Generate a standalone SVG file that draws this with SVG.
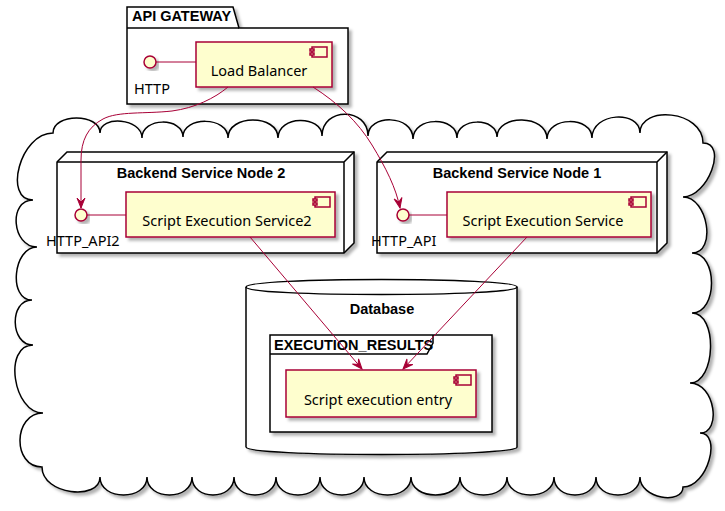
<svg xmlns="http://www.w3.org/2000/svg" width="725" height="511" viewBox="0 0 725 511">
<defs>
<filter id="sh" x="-10%" y="-10%" width="130%" height="130%">
<feDropShadow dx="3" dy="3" stdDeviation="1.8" flood-color="#000" flood-opacity="0.3"/>
</filter>
<marker id="ah" viewBox="-11 -5 12 10" refX="0" refY="0" markerWidth="12" markerHeight="10" markerUnits="userSpaceOnUse" orient="auto">
<path d="M0,0 L-10,-4 L-6,0 L-10,4 Z" fill="#A80036" stroke="#A80036" stroke-width="1" stroke-linejoin="miter"/>
</marker>
<style>
.comp{fill:#FEFECE;stroke:#A80036;stroke-width:1.5}
.ic{fill:#FEFECE;stroke:#A80036;stroke-width:1.5}
.frame{fill:#FFFFFF;stroke:#000000;stroke-width:1.5}
.line{fill:none;stroke:#000000;stroke-width:1.5}
.lnk{fill:none;stroke:#A80036;stroke-width:1}
.sh{filter:url(#sh)}
text{font-family:"Noto Sans","DejaVu Sans",Arial,sans-serif;font-size:14.5px;fill:#000000}
text.b{font-family:"Liberation Sans",Arial,sans-serif;font-weight:bold;font-size:14.5px}
</style>
</defs>
<rect width="725" height="511" fill="#FFFFFF"/>

<g id="cloud" class="sh">
<path class="frame" d="M53,133 C53,113 100,113 100,133 C100,115 142,118 142,138 C142,117 183,117 183,137 C183,116 228,116 228,138 C228,114 278,114 278,138 C278,115 322,115 322,136 C322,107 368,107 368,136 C368,114 413,114 413,139 C413,116 457,116 457,138 C457,117 497,117 497,137 C497,114 547,114 547,139 C547,116 592,116 592,138 C592,112 640,110 640,133 C640,105 703,110 703,143 C728,143 708,197 683,197 C708,197 717,253 692,253 C718,253 718,313 692,313 C718,313 716,383 690,383 C715,383 722,433 700,433 C722,433 708,487 683,487 C683,505 640,499 640,477 C640,501 596,501 596,477 C596,501 554,501 554,477 C554,501 507,501 507,477 C507,501 460,501 460,477 C460,501 411,501 411,477 C411,501 364,501 364,477 C364,501 320,501 320,477 C320,501 276,501 276,477 C276,501 234,501 234,477 C234,501 192,501 192,477 C192,501 147,501 147,477 C147,501 100,501 100,477 C100,501 42,495 42,467 C12,467 13,413 43,413 C13,413 3,345 33,345 C10,345 9,300 32,300 C8,300 13,247 37,247 C12,247 8,200 33,200 C3,200 20,133 53,133 Z"/>
</g>

<g id="api-gateway">
<path class="frame sh" d="M127,7 L233,7 L239,28 L348,28 L348,104 L127,104 Z"/>
<path class="line" d="M127,28 L239,28"/>
<text class="b" x="132" y="21">API GATEWAY</text>
</g>

<g id="http">
<circle class="comp sh" cx="150" cy="62" r="6"/>
<text x="134" y="94">HTTP</text>
</g>

<g id="load-balancer">
<rect class="comp sh" x="196" y="42" width="136" height="45"/>
<rect class="ic" x="312" y="47" width="15" height="10"/>
<rect class="ic" x="310" y="49" width="4" height="2"/>
<rect class="ic" x="310" y="53" width="4" height="2"/>
<text x="259" y="76" text-anchor="middle">Load Balancer</text>
</g>

<g id="node2">
<path class="frame sh" d="M57,162 L67,152 L354,152 L354,243 L344,253 L57,253 Z"/>
<path class="line" d="M57,162 L344,162 L354,152 M344,162 L344,253"/>
<text class="b" x="201" y="178" text-anchor="middle">Backend Service Node 2</text>
</g>

<g id="node1">
<path class="frame sh" d="M377,162 L387,152 L667,152 L667,243 L657,253 L377,253 Z"/>
<path class="line" d="M377,162 L657,162 L667,152 M657,162 L657,253"/>
<text class="b" x="517" y="178" text-anchor="middle">Backend Service Node 1</text>
</g>

<g id="http-api2">
<circle class="comp sh" cx="81" cy="215" r="6"/>
<text x="46" y="246">HTTP_API2</text>
</g>

<g id="script-execution-service2">
<rect class="comp sh" x="126" y="192" width="209" height="45"/>
<rect class="ic" x="315" y="197" width="15" height="10"/>
<rect class="ic" x="313" y="199" width="4" height="2"/>
<rect class="ic" x="313" y="203" width="4" height="2"/>
<text x="227" y="226" text-anchor="middle">Script Execution Service2</text>
</g>

<g id="http-api">
<circle class="comp sh" cx="403" cy="215" r="6"/>
<text x="371" y="246">HTTP_API</text>
</g>

<g id="script-execution-service">
<rect class="comp sh" x="447" y="192" width="204" height="45"/>
<rect class="ic" x="631" y="197" width="15" height="10"/>
<rect class="ic" x="629" y="199" width="4" height="2"/>
<rect class="ic" x="629" y="203" width="4" height="2"/>
<text x="543" y="226" text-anchor="middle">Script Execution Service</text>
</g>

<g id="database">
<path class="frame sh" d="M246,287 C246,277 517,277 517,287 L517,447 C517,457 246,457 246,447 Z"/>
<path class="line" d="M246,287 C246,297 517,297 517,287"/>
<text class="b" x="382" y="314" text-anchor="middle">Database</text>
</g>

<g id="execution-results">
<rect class="frame sh" x="270" y="335" width="222" height="97"/>
<path class="line" d="M270,354 L427,354 L433,343 L433,335"/>
<text class="b" x="274" y="350">EXECUTION_RESULTS</text>
</g>

<g id="script-execution-entry">
<rect class="comp sh" x="286" y="370" width="190" height="47"/>
<rect class="ic" x="456" y="375" width="15" height="10"/>
<rect class="ic" x="454" y="377" width="4" height="2"/>
<rect class="ic" x="454" y="381" width="4" height="2"/>
<text x="378" y="405" text-anchor="middle">Script execution entry</text>
</g>

<g id="connectors">
<path class="lnk" d="M156,62 L196,62"/>
<path class="lnk" d="M87,215 L126,215"/>
<path class="lnk" d="M409,215 L447,215"/>
<path class="lnk" marker-end="url(#ah)" d="M228,87 C215,98 195,108 172,111 C145,114 118,111 103,119 C88,127 81,140 81,160 L81,208"/>
<path class="lnk" marker-end="url(#ah)" d="M313,87 C338,103 358,122 372,145 C386,168 396,188 400,208"/>
<path class="lnk" marker-end="url(#ah)" d="M250,237 L362,369"/>
<path class="lnk" marker-end="url(#ah)" d="M527,237 L403,369"/>
</g>
</svg>
